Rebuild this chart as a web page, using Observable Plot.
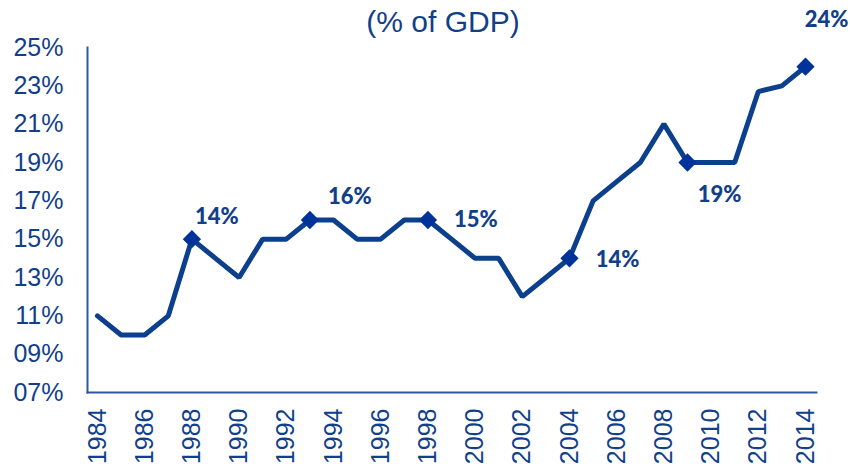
<!DOCTYPE html>
<html>
<head>
<meta charset="utf-8">
<script src="https://cdn.jsdelivr.net/npm/d3@7"></script>
<script src="https://cdn.jsdelivr.net/npm/@observablehq/plot@0.6"></script>
<style>
  html, body { margin: 0; padding: 0; background: #fff; }
  #chart svg { display: block; }
</style>
</head>
<body>
<div id="chart"></div>
<script>
const years = [1984,1985,1986,1987,1988,1989,1990,1991,1992,1993,1994,1995,1996,1997,1998,1999,2000,2001,2002,2003,2004,2005,2006,2007,2008,2009,2010,2011,2012,2013,2014];
const values = [11,10,10,11,15,14,13,15,15,16,16,15,15,16,16,15,14,14,12,13,14,17,18,19,21,19,19,19,22.7,23,24];
const markerYears = [1988,1993,1998,2004,2009,2014];
const labelTexts = ["14%","16%","15%","14%","19%","24%"];
const yTicks = [7,9,11,13,15,17,19,21,23,25];
const xTicks = [1984,1986,1988,1990,1992,1994,1996,1998,2000,2002,2004,2006,2008,2010,2012,2014];
const title = "(% of GDP)";

const data = years.map((x, i) => ({x, y: values[i]}));
const markers = markerYears.map((x, i) => ({x, y: values[years.indexOf(x)], text: labelTexts[i]}));

// label placement (pixels) relative to each marker
const labelOffsets = [[25,-22],[40,-23],[48,0],[48,2],[32,32],[21,-47]];

const lineColor = "#0c3f8c";
const markerColor = "#003399";
const textColor = "#123f8a";
const axisColor = "#2c58a0";

const chart = Plot.plot({
  width: 850,
  height: 470,
  marginLeft: 87,
  marginRight: 34,
  marginTop: 47,
  marginBottom: 78,
  insetLeft: 10,
  insetRight: 11,
  style: {fontFamily: "'Liberation Sans', Arial, sans-serif", color: textColor, background: "#fff"},
  x: {domain: [1984, 2014]},
  y: {domain: [7, 25]},
  marks: [
    Plot.frame({anchor: "left", stroke: axisColor, strokeWidth: 2}),
    Plot.frame({anchor: "bottom", stroke: axisColor, strokeWidth: 2}),
    Plot.axisY(yTicks, {
      tickSize: 0, tickPadding: 24, fontSize: 25, fill: textColor,
      tickFormat: d => String(d).padStart(2, "0") + "%", label: null
    }),
    Plot.axisX(xTicks, {
      tickSize: 0, tickPadding: 16, fontSize: 25, fill: textColor,
      tickRotate: -90, tickFormat: d => String(d), label: null
    }),
    Plot.line(data, {x: "x", y: "y", stroke: lineColor, strokeWidth: 5, strokeLinejoin: "miter"}),
    Plot.dot(markers, {x: "x", y: "y", symbol: "square", r: 7.3, fill: markerColor, rotate: 45}),
    ...markers.map((m, i) => Plot.text([m], {
      x: "x", y: "y", text: "text",
      dx: labelOffsets[i][0], dy: labelOffsets[i][1],
      fontSize: 22, fontWeight: 900, fill: textColor,
      fontFamily: "Lato, 'Open Sans', sans-serif"
    })),
    Plot.text([title], {
      frameAnchor: "top", dy: -25, dx: -9, text: d => d,
      fontSize: 30, fill: textColor, lineAnchor: "middle",
      style: {letterSpacing: "1px"}
    })
  ]
});
document.getElementById("chart").appendChild(chart);
</script>
</body>
</html>
